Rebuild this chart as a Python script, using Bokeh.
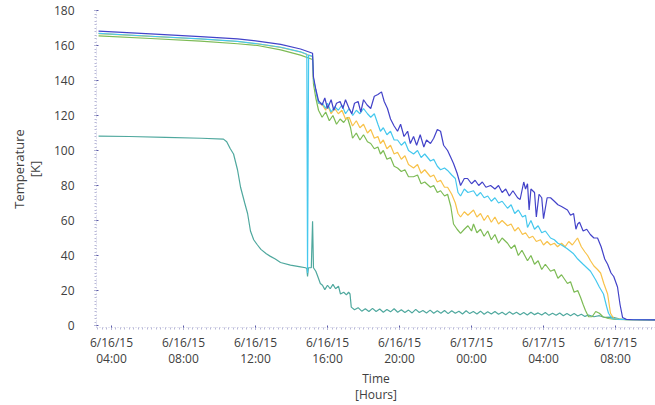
from bokeh.plotting import figure
from bokeh.models import Range1d, FixedTicker
from bokeh.embed import file_html
from bokeh.resources import INLINE

# hours since 6/16/15 00:00
tick_hours = [4, 8, 12, 16, 20, 24, 28, 32]
tick_labels = ["6/16/15\n04:00", "6/16/15\n08:00", "6/16/15\n12:00", "6/16/15\n16:00",
               "6/16/15\n20:00", "6/17/15\n00:00", "6/17/15\n04:00", "6/17/15\n08:00"]
y_ticks = [0, 20, 40, 60, 80, 100, 120, 140, 160, 180]

blue = [(3.28, 168.2), (6.17, 166.6), (8.94, 165.1), (11.0, 163.8), (12.11, 162.5), (13.4, 160.6),
        (14.5, 158.0), (15.17, 155.6), (15.22, 142), (15.35, 135), (15.5, 128.5), (15.7, 126), (15.85, 130),
        (16.0, 124), (16.2, 129), (16.35, 123), (16.5, 127), (16.7, 128), (16.85, 124), (17.0, 129),
        (17.2, 124), (17.35, 121), (17.5, 127), (17.7, 128), (17.85, 122), (18.0, 129), (18.2, 126),
        (18.4, 124), (18.6, 131), (18.8, 132), (19.0, 133.5), (19.15, 128), (19.33, 124), (19.5, 118),
        (19.7, 114), (19.89, 111), (20.06, 115), (20.25, 108), (20.45, 111), (20.6, 104), (20.78, 108),
        (20.95, 103), (21.15, 109), (21.35, 102), (21.5, 106), (21.72, 104), (21.9, 107), (22.1, 112),
        (22.28, 111), (22.45, 103), (22.67, 100), (22.85, 96), (23.0, 92.6), (23.2, 87), (23.39, 80),
        (23.6, 84), (23.78, 84), (24.0, 81), (24.2, 83), (24.4, 80), (24.6, 82), (24.8, 79), (25.06, 80),
        (25.3, 78), (25.5, 80), (25.7, 76), (25.9, 78), (26.1, 74), (26.3, 77), (26.56, 73), (26.7, 72),
        (26.9, 82), (27.0, 78), (27.11, 81), (27.2, 66), (27.3, 78), (27.5, 76), (27.6, 62), (27.75, 75),
        (27.9, 73), (28.0, 61), (28.2, 73), (28.39, 73), (28.6, 71), (28.8, 69), (29.0, 68), (29.33, 66),
        (29.5, 63), (29.67, 64), (29.8, 55), (29.9, 58), (30.0, 59), (30.2, 54), (30.4, 55), (30.6, 52),
        (30.8, 50), (31.0, 50), (31.2, 45), (31.4, 38), (31.56, 35), (31.75, 30), (31.9, 28), (32.11, 22),
        (32.25, 12), (32.39, 4.6), (32.6, 3.5), (33.0, 3.3), (34.3, 3.2)]

cyan = [(3.28, 166.9), (6.17, 165.3), (8.94, 163.8), (11.0, 162.4), (12.11, 161.0), (13.4, 159.0),
        (14.5, 156.4), (14.85, 155.0), (14.89, 30), (14.95, 154.6), (15.17, 153.8), (15.22, 141),
        (15.35, 134), (15.5, 127), (15.72, 127), (15.9, 124), (16.0, 127), (16.2, 122), (16.4, 125),
        (16.6, 123), (16.8, 126), (17.0, 121), (17.2, 124), (17.4, 120), (17.6, 123), (17.8, 121),
        (18.0, 124), (18.22, 121), (18.4, 119), (18.6, 121), (18.8, 115), (18.94, 111), (19.1, 113),
        (19.3, 109), (19.5, 111), (19.7, 106), (19.89, 106), (20.1, 103), (20.3, 105), (20.5, 100),
        (20.78, 98), (21.0, 100), (21.2, 96), (21.4, 98), (21.72, 94), (21.9, 95), (22.1, 91), (22.28, 89),
        (22.5, 90), (22.67, 88.6), (22.9, 86), (23.1, 84), (23.25, 76), (23.39, 74), (23.6, 78), (23.8, 76),
        (24.11, 77), (24.3, 74), (24.5, 76), (24.7, 73), (24.9, 74), (25.1, 71), (25.3, 73), (25.5, 70),
        (25.7, 71), (26.0, 67), (26.2, 69), (26.4, 64), (26.6, 66), (26.83, 62), (27.0, 63), (27.11, 56),
        (27.3, 60), (27.5, 55), (27.7, 57), (27.9, 53), (28.1, 54), (28.39, 50), (28.6, 49), (28.8, 47),
        (29.0, 46), (29.3, 44), (29.67, 41), (29.9, 38), (30.2, 35), (30.61, 31), (30.9, 26), (31.1, 22),
        (31.33, 18), (31.5, 11), (31.61, 7), (31.8, 4), (32.2, 3.5), (34.3, 3.2)]

yellow = [(3.28, 166.8), (6.17, 165.2), (8.94, 163.7), (11.0, 162.3), (12.11, 160.9), (13.4, 158.9),
          (14.5, 156.3), (15.17, 153.6), (15.22, 141), (15.35, 134), (15.5, 127), (15.72, 126), (15.9, 123),
          (16.0, 126), (16.2, 121), (16.4, 124), (16.6, 121), (16.8, 123), (17.0, 118), (17.2, 119),
          (17.39, 114), (17.6, 117), (17.8, 113), (18.0, 115), (18.22, 110), (18.4, 112), (18.6, 107),
          (18.8, 108), (18.94, 104), (19.1, 106), (19.3, 101), (19.5, 103), (19.7, 98), (19.89, 99),
          (20.1, 95), (20.3, 97), (20.5, 92), (20.78, 90), (21.0, 92), (21.2, 87), (21.4, 89), (21.72, 85),
          (21.9, 86), (22.1, 82), (22.28, 83), (22.5, 79), (22.67, 79), (22.9, 75), (23.1, 70), (23.25, 64),
          (23.39, 62), (23.6, 65), (23.8, 63), (24.11, 66), (24.3, 62), (24.5, 64), (24.7, 60), (24.9, 63),
          (25.1, 59), (25.3, 62), (25.5, 58), (25.7, 60), (26.0, 57), (26.2, 58), (26.4, 54), (26.6, 56),
          (26.83, 52), (27.0, 53), (27.2, 50), (27.4, 51), (27.6, 48), (27.83, 49), (28.0, 46), (28.2, 48),
          (28.39, 46), (28.6, 47), (28.78, 45), (29.0, 47), (29.2, 45), (29.4, 48), (29.6, 46), (29.89, 50),
          (30.1, 45), (30.3, 42), (30.45, 40), (30.61, 37), (30.8, 34), (31.0, 32), (31.17, 30), (31.35, 24),
          (31.56, 18), (31.72, 7), (31.9, 4), (32.3, 3.5), (34.3, 3.2)]

green = [(3.28, 165.5), (6.17, 164.0), (8.94, 162.5), (11.0, 161.0), (12.11, 160.0), (13.4, 157.5),
         (14.5, 154.5), (15.17, 152.0), (15.22, 138), (15.35, 130), (15.5, 123), (15.7, 119), (15.9, 122),
         (16.1, 117), (16.3, 120), (16.5, 115), (16.7, 118), (16.9, 116), (17.1, 119), (17.28, 113),
         (17.39, 107), (17.6, 110), (17.8, 106), (18.0, 109), (18.22, 105), (18.4, 104), (18.6, 101),
         (18.8, 102), (18.94, 98), (19.1, 100), (19.3, 95), (19.5, 96), (19.7, 91), (19.89, 90), (20.1, 88),
         (20.3, 89), (20.5, 85), (20.78, 85), (21.0, 86), (21.2, 81), (21.4, 82), (21.72, 79), (21.9, 80),
         (22.1, 76), (22.28, 77), (22.5, 74), (22.67, 75), (22.85, 68), (23.0, 58), (23.2, 55), (23.39, 52.6),
         (23.6, 55), (23.8, 57), (24.0, 54), (24.11, 58), (24.3, 53), (24.5, 55), (24.7, 51), (24.9, 54),
         (25.1, 49), (25.3, 52), (25.5, 47), (25.7, 50), (26.0, 47), (26.2, 44), (26.4, 46), (26.6, 40),
         (26.8, 43), (27.11, 37), (27.3, 40), (27.5, 35), (27.7, 37), (27.9, 32), (28.1, 35), (28.39, 31),
         (28.6, 32), (28.8, 27), (29.0, 29), (29.33, 24), (29.5, 25), (29.7, 19), (29.9, 20), (30.06, 16),
         (30.2, 12), (30.33, 8.6), (30.5, 5), (30.7, 5), (30.9, 8), (31.1, 7), (31.3, 5), (31.6, 4),
         (32.0, 3.5), (34.3, 3.2)]

teal = [(3.28, 108.2), (5.0, 108.0), (7.0, 107.5), (9.0, 107.0), (10.22, 106.5), (10.4, 105), (10.6, 101),
        (10.78, 98), (11.0, 89), (11.17, 79), (11.4, 70), (11.56, 64), (11.72, 54), (11.9, 49), (12.11, 46),
        (12.3, 43.5), (12.6, 41), (12.83, 39.5), (13.1, 38), (13.39, 36), (13.94, 34.5), (14.5, 33.5),
        (14.78, 33), (14.85, 32.6), (14.89, 28), (14.94, 33), (15.1, 33), (15.17, 59.6), (15.22, 33),
        (15.35, 31), (15.44, 28.6), (15.6, 24), (15.72, 23), (15.85, 20.5), (16.0, 23), (16.15, 21),
        (16.3, 23.5), (16.45, 21), (16.61, 22.5), (16.72, 18), (16.9, 19), (17.05, 17.5), (17.17, 19),
        (17.25, 18), (17.32, 10.5), (17.5, 9), (17.7, 10.2), (17.9, 8.2), (18.1, 9.6), (18.3, 8),
        (18.5, 9.8), (18.7, 8), (18.9, 9.4), (19.1, 7.6), (19.3, 9.2), (19.5, 7.8), (19.7, 9.6), (19.9, 7.6),
        (20.1, 9), (20.3, 7.4), (20.5, 8.8), (20.7, 7.2), (20.9, 9.2), (21.1, 7.4), (21.3, 8.6), (21.5, 7.2),
        (21.7, 8.8), (21.9, 7), (22.1, 8.4), (22.3, 7), (22.5, 8.6), (22.7, 6.8), (22.9, 8.4), (23.1, 7),
        (23.3, 8.2), (23.5, 6.6), (23.7, 8.4), (23.9, 6.8), (24.1, 8), (24.3, 6.6), (24.5, 8.2), (24.7, 6.4),
        (24.9, 7.8), (25.1, 6.6), (25.3, 8), (25.5, 6.4), (25.7, 7.6), (25.9, 6.2), (26.1, 7.8), (26.3, 6.4),
        (26.5, 7.6), (26.7, 6.2), (26.9, 7.4), (27.1, 6), (27.3, 7.6), (27.5, 6.2), (27.7, 7.2), (27.9, 6),
        (28.1, 7.4), (28.3, 5.8), (28.5, 7), (28.7, 5.8), (28.9, 7.2), (29.1, 5.6), (29.3, 6.8), (29.5, 5.6),
        (29.7, 6.8), (29.9, 5.4), (30.1, 6.4), (30.3, 5.2), (30.5, 6), (30.8, 5), (31.1, 5.6), (31.4, 4.6),
        (31.8, 4.8), (32.2, 3.8), (32.6, 3.4), (33.0, 3.3), (34.3, 3.2)]

FONT = "Open Sans"
TXT = "#404040"

p = figure(width=655, height=405, output_backend="svg", toolbar_location=None,
           x_range=Range1d(3.167, 34.22), y_range=Range1d(-1.14, 180),
           min_border_left=96, min_border_right=0, min_border_top=10, min_border_bottom=78)
p.outline_line_color = None
p.grid.visible = False
p.background_fill_color = "white"
p.border_fill_color = "white"

series = [(teal, "#4fa89e"), (green, "#7dbb55"), (yellow, "#f8c24a"), (cyan, "#45c8ee"), (blue, "#4343c9")]
for data, col in series:
    xs = [d[0] for d in data]
    ys = [d[1] for d in data]
    p.line(xs, ys, line_color=col, line_width=1.2)

xminor = [3.25 + 0.25 * i for i in range(124)]
p.xaxis.ticker = FixedTicker(ticks=tick_hours, minor_ticks=xminor)
p.xaxis.major_label_overrides = {h: lab for h, lab in zip(tick_hours, tick_labels)}
yminor = [2 * i for i in range(91)]
p.yaxis.ticker = FixedTicker(ticks=y_ticks, minor_ticks=yminor)

for ax in (p.xaxis[0], p.yaxis[0]):
    ax.axis_line_color = "#c8c8e0"
    ax.axis_line_dash = "1 2"
    ax.major_tick_line_color = "#5a5aa8"
    ax.major_tick_in = 2
    ax.major_tick_out = 2
    ax.minor_tick_line_color = "#b8b8d8"
    ax.minor_tick_in = 0
    ax.minor_tick_out = 2
    ax.major_label_text_font = FONT
    ax.major_label_text_font_size = "12px"
    ax.major_label_text_color = TXT
    ax.axis_label_text_font = FONT
    ax.axis_label_text_font_size = "12px"
    ax.axis_label_text_color = TXT
    ax.axis_label_text_font_style = "normal"

p.xaxis.axis_label = "Time\n[Hours]"
p.xaxis.major_label_standoff = 4
p.xaxis.axis_label_standoff = 0
p.xaxis.major_label_text_line_height = 0.95
p.xaxis.axis_label_text_line_height = 0.95

p.yaxis.axis_label = "Temperature\n[K]"
p.yaxis.major_label_standoff = 20
p.yaxis.axis_label_standoff = 7
p.yaxis.axis_label_text_font_size = "13px"
p.yaxis.axis_label_text_line_height = 0.9

open("out.html", "w").write(file_html(p, INLINE))
